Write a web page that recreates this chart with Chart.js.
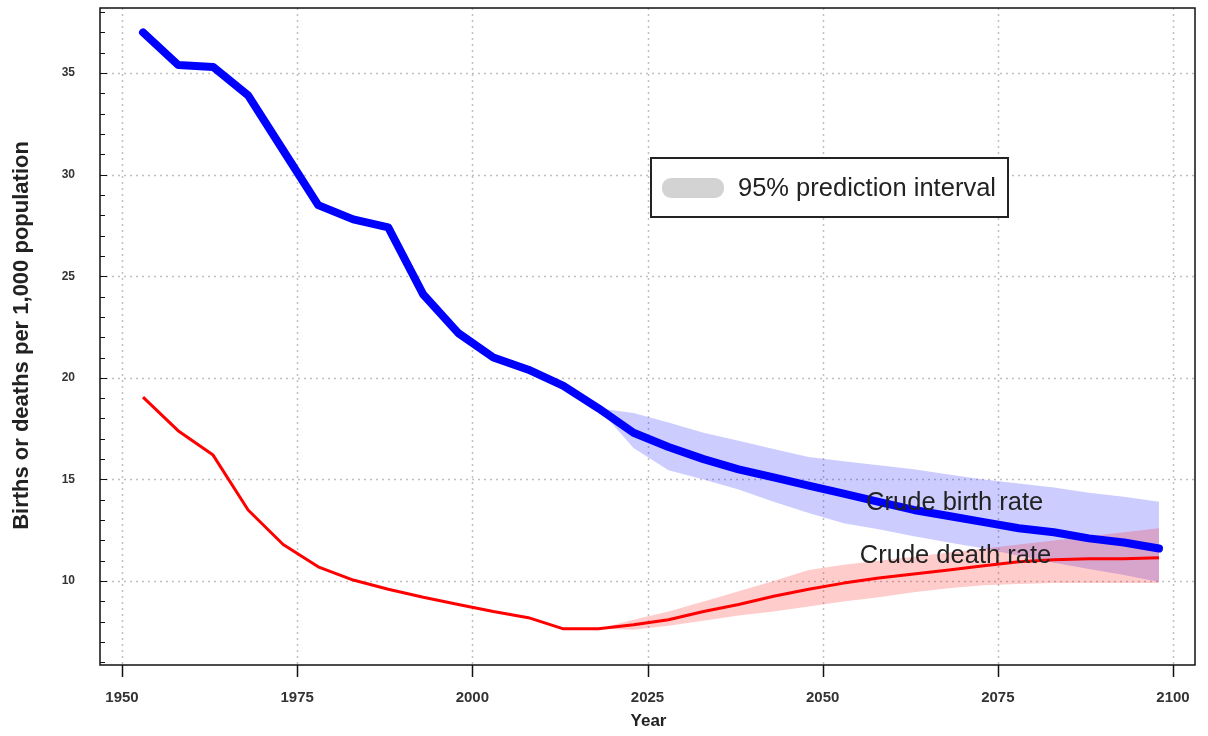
<!DOCTYPE html>
<html>
<head>
<meta charset="utf-8">
<script src="https://cdn.jsdelivr.net/npm/chart.js@4.4.1/dist/chart.umd.min.js"></script>
<style>
  html, body { margin: 0; padding: 0; background: #fff; }
  #wrap { width: 1208px; height: 736px; }
</style>
</head>
<body>
<div id="wrap"><canvas id="rateChart" width="1208" height="736"></canvas></div>
<script>
// years of the estimates / projections (5-year midpoints)
const years = [1953, 1958, 1963, 1968, 1973, 1978, 1983, 1988, 1993, 1998,
               2003, 2008, 2013, 2018, 2023, 2028, 2033, 2038, 2043, 2048,
               2053, 2058, 2063, 2068, 2073, 2078, 2083, 2088, 2093, 2098];

const birthRate = [37.0, 35.4, 35.3, 33.9, 31.2, 28.5, 27.8, 27.4, 24.1, 22.2,
                   21.0, 20.4, 19.6, 18.5, 17.3, 16.6, 16.0, 15.5, 15.1, 14.7,
                   14.3, 13.9, 13.5, 13.2, 12.9, 12.6, 12.4, 12.1, 11.9, 11.6];

const deathRate = [19.05, 17.4, 16.2, 13.5, 11.8, 10.7, 10.05, 9.6, 9.2, 8.85,
                   8.5, 8.2, 7.65, 7.65, 7.85, 8.1, 8.5, 8.85, 9.25, 9.6,
                   9.9, 10.15, 10.35, 10.55, 10.75, 10.95, 11.05, 11.1, 11.1, 11.15];

// 95% prediction intervals (projection period)
const bandYears = [2018, 2023, 2028, 2033, 2038, 2043, 2048, 2053, 2058,
                   2063, 2068, 2073, 2078, 2083, 2088, 2093, 2098];
const birthUpper = [18.5, 18.27, 17.8, 17.3, 16.9, 16.5, 16.1, 15.9, 15.7,
                    15.5, 15.25, 15.0, 14.8, 14.6, 14.35, 14.15, 13.9];
const birthLower = [18.5, 16.55, 15.45, 15.0, 14.5, 13.9, 13.35, 12.85, 12.55,
                    12.2, 11.9, 11.6, 11.25, 10.9, 10.6, 10.3, 9.95];
const deathUpper = [7.65, 8.1, 8.5, 9.0, 9.5, 10.0, 10.55, 10.8, 11.0,
                    11.2, 11.4, 11.6, 11.8, 12.0, 12.2, 12.4, 12.6];
const deathLower = [7.65, 7.6, 7.8, 8.05, 8.3, 8.5, 8.75, 9.0, 9.2,
                    9.45, 9.65, 9.8, 9.85, 9.9, 9.9, 9.9, 9.9];

const xTicks = [1950, 1975, 2000, 2025, 2050, 2075, 2100];
const yTicks = [10, 15, 20, 25, 30, 35];

// where the two series names sit (data coordinates)
const labelBirth = [2056.2, 13.84];
const labelDeath = [2055.3, 11.23];

const SANS = '"Liberation Sans", Arial, sans-serif';

function pts(xs, ys) {
    return xs.map((x, i) => ({ x: x, y: ys[i] }));
}

// grid, frame, tick marks, titles, labels and the legend box
const decorPlugin = {
    id: 'decor',
    beforeDatasetsDraw(chart) {
        const ctx = chart.ctx;
        const a = chart.chartArea;
        const xs = chart.scales.x, ys = chart.scales.y;
        ctx.save();
        ctx.strokeStyle = '#c0c0c0';
        ctx.lineWidth = 1.5;
        ctx.setLineDash([2, 4]);
        xTicks.forEach(v => {
            const px = Math.round(xs.getPixelForValue(v)) + 0.5;
            ctx.beginPath(); ctx.moveTo(px, a.top); ctx.lineTo(px, a.bottom); ctx.stroke();
        });
        yTicks.forEach(v => {
            const py = Math.round(ys.getPixelForValue(v)) + 0.5;
            ctx.beginPath(); ctx.moveTo(a.left, py); ctx.lineTo(a.right, py); ctx.stroke();
        });
        ctx.restore();
    },
    afterDatasetsDraw(chart) {
        const ctx = chart.ctx;
        const a = chart.chartArea;
        const xs = chart.scales.x, ys = chart.scales.y;
        ctx.save();

        // frame
        ctx.strokeStyle = '#111';
        ctx.lineWidth = 1.5;
        ctx.strokeRect(a.left, a.top, a.right - a.left, a.bottom - a.top);

        // x tick marks (outside)
        xTicks.forEach(v => {
            const px = Math.round(xs.getPixelForValue(v)) + 0.5;
            ctx.beginPath(); ctx.moveTo(px, a.bottom); ctx.lineTo(px, a.bottom + 12); ctx.stroke();
        });
        // y minor tick marks (inside)
        ctx.lineWidth = 1;
        for (let v = Math.ceil(ys.min); v <= ys.max; v++) {
            const py = Math.round(ys.getPixelForValue(v)) + 0.5;
            const len = v % 5 === 0 ? 7 : 5;
            ctx.beginPath(); ctx.moveTo(a.left, py); ctx.lineTo(a.left + len, py); ctx.stroke();
        }

        // axis titles
        ctx.fillStyle = '#222';
        ctx.textBaseline = 'middle';
        ctx.textAlign = 'center';
        ctx.save();
        ctx.translate(22, (a.top + a.bottom) / 2 - 1);
        ctx.rotate(-Math.PI / 2);
        ctx.font = 'bold 22px ' + SANS;
        ctx.fillText('Births or deaths per 1,000 population', 0, 0);
        ctx.restore();
        ctx.font = 'bold 17px ' + SANS;
        ctx.fillText('Year', (a.left + a.right) / 2 + 1, 721);

        // series names
        ctx.textAlign = 'left';
        ctx.font = '25.5px ' + SANS;
        ctx.fillText('Crude birth rate', xs.getPixelForValue(labelBirth[0]), ys.getPixelForValue(labelBirth[1]));
        ctx.fillText('Crude death rate', xs.getPixelForValue(labelDeath[0]), ys.getPixelForValue(labelDeath[1]));

        // legend box
        const bx = 651, by = 158, bw = 357, bh = 59;
        ctx.fillStyle = '#fff';
        ctx.fillRect(bx, by, bw, bh);
        ctx.strokeStyle = '#222';
        ctx.lineWidth = 2;
        ctx.strokeRect(bx, by, bw, bh);
        ctx.fillStyle = '#d3d3d3';
        ctx.beginPath();
        ctx.roundRect(bx + 11, by + 20, 62, 20, 9);
        ctx.fill();
        ctx.fillStyle = '#222';
        ctx.fillText('95% prediction interval', bx + 87, by + 31);

        ctx.restore();
    }
};

document.addEventListener('DOMContentLoaded', function() {
    const ctx = document.getElementById('rateChart').getContext('2d');

    const data = {
        datasets: [
            {
                label: 'Crude birth rate',
                data: pts(years, birthRate),
                borderColor: '#0000ff',
                borderWidth: 8,
                borderCapStyle: 'round',
                borderJoinStyle: 'round',
                pointRadius: 0,
                fill: false,
                order: 1
            },
            {
                label: 'Crude death rate',
                data: pts(years, deathRate),
                borderColor: '#ff0000',
                borderWidth: 3,
                borderJoinStyle: 'round',
                pointRadius: 0,
                fill: false,
                order: 2
            },
            {
                label: 'death upper',
                data: pts(bandYears, deathUpper),
                borderWidth: 0,
                pointRadius: 0,
                backgroundColor: 'rgba(255, 0, 0, 0.2)',
                fill: '+1',
                order: 3
            },
            {
                label: 'death lower',
                data: pts(bandYears, deathLower),
                borderWidth: 0,
                pointRadius: 0,
                fill: false,
                order: 4
            },
            {
                label: 'birth upper',
                data: pts(bandYears, birthUpper),
                borderWidth: 0,
                pointRadius: 0,
                backgroundColor: 'rgba(0, 0, 255, 0.2)',
                fill: '+1',
                order: 5
            },
            {
                label: 'birth lower',
                data: pts(bandYears, birthLower),
                borderWidth: 0,
                pointRadius: 0,
                fill: false,
                order: 6
            }
        ]
    };

    const config = {
        type: 'line',
        data: data,
        options: {
            responsive: false,
            animation: false,
            devicePixelRatio: 1,
            layout: { padding: { left: 0, right: 13, top: 8, bottom: 0 } },
            plugins: {
                legend: { display: false },
                tooltip: { enabled: false }
            },
            scales: {
                x: {
                    type: 'linear',
                    min: 1946.86,
                    max: 2103.14,
                    afterBuildTicks: s => { s.ticks = xTicks.map(v => ({ value: v })); },
                    afterFit: s => { s.height = 71; s.paddingLeft = 0; s.paddingRight = 0; },
                    grid: { display: false },
                    border: { display: false },
                    ticks: { color: '#333', font: { family: SANS, size: 15, weight: 'bold' },
                             padding: 16, maxRotation: 0, callback: v => String(v) }
                },
                y: {
                    type: 'linear',
                    min: 5.87,
                    max: 38.2,
                    afterBuildTicks: s => { s.ticks = yTicks.map(v => ({ value: v })); },
                    afterFit: s => { s.width = 100; s.paddingTop = 0; s.paddingBottom = 0; },
                    grid: { display: false },
                    border: { display: false },
                    ticks: { color: '#333', font: { family: SANS, size: 12, weight: 'bold' },
                             padding: 17, callback: v => String(v) }
                }
            }
        },
        plugins: [decorPlugin]
    };

    new Chart(ctx, config);
});
</script>
</body>
</html>
